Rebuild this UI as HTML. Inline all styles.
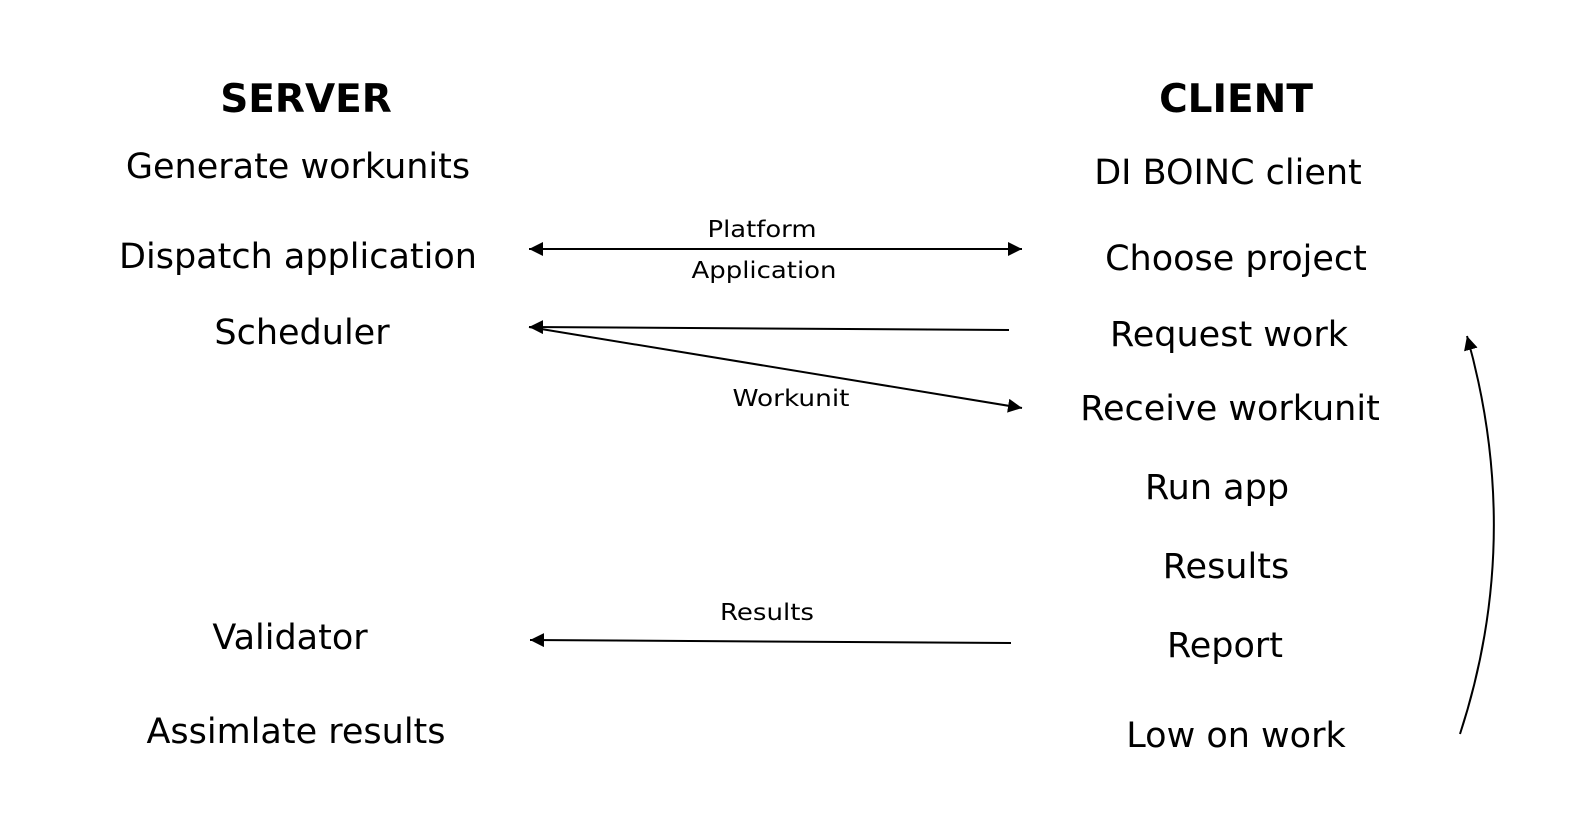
<!DOCTYPE html>
<html><head><meta charset="utf-8"><style>
html,body{margin:0;padding:0;background:#fff;}
svg{display:block;}
text{font-family:"DejaVu Sans","Liberation Sans",sans-serif;fill:#000;}
.t{font-size:35px;text-anchor:middle;}
.h{font-size:39px;font-weight:bold;text-anchor:middle;}
.s{font-size:23px;text-anchor:middle;}
</style></head><body>
<svg width="1595" height="814" viewBox="0 0 1595 814" xmlns="http://www.w3.org/2000/svg">
<defs>
<marker id="a" viewBox="0 0 10 10" refX="10" refY="5" markerWidth="14" markerHeight="14" markerUnits="userSpaceOnUse" orient="auto-start-reverse">
<path d="M0,0 L10,5 L0,10 z" fill="#000"/></marker>
</defs>
<g transform="translate(0,-2)">
<text class="h" x="306" y="114">SERVER</text>
<text class="h" x="1236" y="114">CLIENT</text>

<text class="t" x="298" y="180">Generate workunits</text>
<text class="t" x="298" y="270">Dispatch application</text>
<text class="t" x="302" y="346">Scheduler</text>
<text class="t" x="290" y="651">Validator</text>
<text class="t" x="296" y="745">Assimlate results</text>

<text class="t" x="1228" y="186">DI BOINC client</text>
<text class="t" x="1236" y="272">Choose project</text>
<text class="t" x="1229" y="348">Request work</text>
<text class="t" x="1230" y="422">Receive workunit</text>
<text class="t" x="1217" y="501">Run app</text>
<text class="t" x="1226" y="580">Results</text>
<text class="t" x="1225" y="659">Report</text>
<text class="t" x="1236" y="749">Low on work</text>

<text class="s" x="762" y="239" textLength="109" lengthAdjust="spacingAndGlyphs">Platform</text>
<text class="s" x="764" y="280" textLength="145" lengthAdjust="spacingAndGlyphs">Application</text>
<text class="s" x="791" y="408" textLength="117" lengthAdjust="spacingAndGlyphs">Workunit</text>
<text class="s" x="767" y="622" textLength="94" lengthAdjust="spacingAndGlyphs">Results</text>

<g stroke="#000" stroke-width="2" fill="none">
<line x1="529" y1="251" x2="1022" y2="251" marker-start="url(#a)" marker-end="url(#a)"/>
<line x1="1009" y1="332" x2="529" y2="329" marker-end="url(#a)"/>
<line x1="529" y1="329" x2="1022" y2="410" marker-end="url(#a)"/>
<line x1="1011" y1="645" x2="530" y2="642" marker-end="url(#a)"/>
<path d="M1460,736 Q1524,540 1467,338" marker-end="url(#a)"/>
</g>
</g>
</svg>
</body></html>
